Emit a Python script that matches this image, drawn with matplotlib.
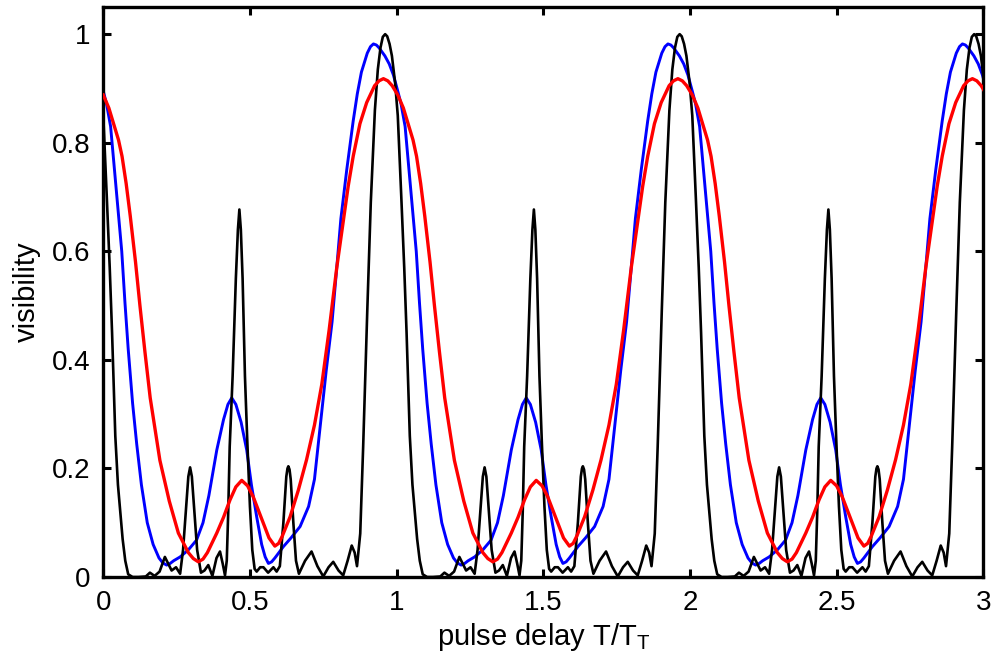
import matplotlib
matplotlib.use("Agg")
import matplotlib.pyplot as plt
import numpy as np

plt.rcParams['font.family'] = ['Liberation Sans', 'DejaVu Sans']

period = 1.004
n_periods = 3

black_u = [0.000, 0.012, 0.022, 0.030, 0.041, 0.050, 0.058, 0.066, 0.075, 0.085,
           0.100, 0.120, 0.145, 0.159, 0.175, 0.192, 0.210, 0.233, 0.248, 0.262,
           0.272, 0.284, 0.290, 0.296, 0.302, 0.308, 0.320, 0.333, 0.345, 0.358,
           0.372, 0.386, 0.398, 0.407, 0.415, 0.421, 0.426, 0.431, 0.441, 0.452,
           0.459, 0.464, 0.469, 0.475, 0.483, 0.491, 0.500, 0.508, 0.516, 0.523,
           0.535, 0.546, 0.562, 0.580, 0.591, 0.602, 0.614, 0.624, 0.628, 0.631,
           0.635, 0.639, 0.648, 0.657, 0.667, 0.688, 0.710, 0.730, 0.750, 0.768,
           0.784, 0.802, 0.818, 0.833, 0.847, 0.857, 0.865, 0.876, 0.886, 0.900,
           0.912, 0.926, 0.936, 0.945, 0.953, 0.961, 0.968, 0.976, 0.984, 0.995,
           1.004]
black_v = [0.850, 0.700, 0.570, 0.450, 0.260, 0.170, 0.120, 0.070, 0.030, 0.005,
           0.000, 0.000, 0.001, 0.008, 0.002, 0.010, 0.037, 0.012, 0.018, 0.006,
           0.050, 0.140, 0.185, 0.202, 0.185, 0.140, 0.050, 0.008, 0.012, 0.022,
           0.002, 0.035, 0.047, 0.025, 0.003, 0.030, 0.120, 0.240, 0.370, 0.550,
           0.640, 0.677, 0.640, 0.550, 0.370, 0.250, 0.130, 0.050, 0.015, 0.010,
           0.018, 0.018, 0.008, 0.018, 0.010, 0.020, 0.100, 0.185, 0.200, 0.204,
           0.198, 0.180, 0.100, 0.030, 0.006, 0.030, 0.047, 0.020, 0.001, 0.018,
           0.028, 0.012, 0.003, 0.030, 0.058, 0.045, 0.020, 0.080, 0.240, 0.490,
           0.690, 0.860, 0.935, 0.975, 0.995, 1.000, 0.996, 0.982, 0.960, 0.910,
           0.850]

blue_u = [0.000, 0.011, 0.025, 0.040, 0.050, 0.063, 0.074, 0.085, 0.100, 0.114,
          0.130, 0.150, 0.170, 0.190, 0.203, 0.216, 0.228, 0.240, 0.262, 0.290,
          0.318, 0.340, 0.360, 0.387, 0.410, 0.425, 0.438, 0.452, 0.470, 0.489,
          0.505, 0.523, 0.540, 0.552, 0.563, 0.574, 0.585, 0.614, 0.640, 0.671,
          0.700, 0.720, 0.740, 0.760, 0.780, 0.796, 0.810, 0.830, 0.852, 0.866,
          0.880, 0.900, 0.911, 0.921, 0.931, 0.940, 0.960, 0.975, 0.989, 1.004]
blue_v = [0.895, 0.872, 0.830, 0.740, 0.680, 0.600, 0.505, 0.420, 0.320, 0.245,
          0.170, 0.100, 0.060, 0.035, 0.026, 0.022, 0.025, 0.030, 0.037, 0.050,
          0.068, 0.100, 0.150, 0.234, 0.290, 0.318, 0.330, 0.318, 0.285, 0.234,
          0.170, 0.111, 0.060, 0.037, 0.025, 0.028, 0.035, 0.056, 0.072, 0.093,
          0.130, 0.180, 0.280, 0.380, 0.470, 0.570, 0.660, 0.750, 0.840, 0.890,
          0.930, 0.965, 0.977, 0.982, 0.980, 0.975, 0.960, 0.945, 0.925, 0.895]

red_u = [0.000, 0.019, 0.040, 0.052, 0.064, 0.078, 0.092, 0.110, 0.125, 0.142,
         0.160, 0.193, 0.225, 0.256, 0.290, 0.307, 0.324, 0.340, 0.355, 0.387,
         0.410, 0.432, 0.452, 0.472, 0.492, 0.511, 0.546, 0.565, 0.585, 0.598,
         0.610, 0.637, 0.665, 0.693, 0.720, 0.745, 0.770, 0.796, 0.818, 0.835,
         0.852, 0.875, 0.898, 0.925, 0.940, 0.955, 0.970, 0.985, 1.004]
red_v = [0.888, 0.864, 0.826, 0.805, 0.775, 0.725, 0.665, 0.580, 0.500, 0.415,
         0.330, 0.215, 0.140, 0.081, 0.045, 0.034, 0.028, 0.033, 0.045, 0.081,
         0.110, 0.142, 0.166, 0.178, 0.168, 0.148, 0.099, 0.072, 0.057, 0.062,
         0.075, 0.111, 0.160, 0.216, 0.280, 0.355, 0.455, 0.570, 0.655, 0.720,
         0.775, 0.835, 0.874, 0.905, 0.914, 0.918, 0.914, 0.905, 0.888]

xticks = [0, 0.5, 1, 1.5, 2, 2.5, 3]
xtick_labels = ['0', '0.5', '1', '1.5', '2', '2.5', '3']
yticks = [0, 0.2, 0.4, 0.6, 0.8, 1]
ytick_labels = ['0', '0.2', '0.4', '0.6', '0.8', '1']


def repeat(u, v):
    # the curves repeat with the revival period
    u = np.asarray(u)
    v = np.asarray(v)
    xs = [u[:-1] + k * period for k in range(n_periods)] + [[u[-1] + (n_periods - 1) * period]]
    ys = [v[:-1] for k in range(n_periods)] + [[v[-1]]]
    return np.concatenate(xs), np.concatenate(ys)


fig = plt.figure(figsize=(9.92, 6.68), dpi=100)
ax = fig.add_axes([0.1041, 0.1362, 0.8871, 0.8533])

x, y = repeat(blue_u, blue_v)
ax.plot(x, y, color='#0000ff', lw=2.1, zorder=2, solid_joinstyle='round')
x, y = repeat(black_u, black_v)
ax.plot(x, y, color='black', lw=1.9, zorder=3, solid_joinstyle='round')
x, y = repeat(red_u, red_v)
ax.plot(x, y, color='#ff0000', lw=2.4, zorder=4, solid_joinstyle='round')

ax.set_xlim(0, 3)
ax.set_ylim(0, 1.05)
ax.set_xticks(xticks)
ax.set_xticklabels(xtick_labels)
ax.set_yticks(yticks)
ax.set_yticklabels(ytick_labels)
ax.tick_params(direction='in', top=True, right=True, length=6, width=2.2,
               labelsize=20, pad=9)
for s in ax.spines.values():
    s.set_linewidth(2.4)

ax.set_xlabel(r'pulse delay T/T$_\mathregular{T}$', fontsize=21, labelpad=4)
ax.set_ylabel('visibility', fontsize=21, labelpad=8)

fig.savefig('out.png', dpi=100)
